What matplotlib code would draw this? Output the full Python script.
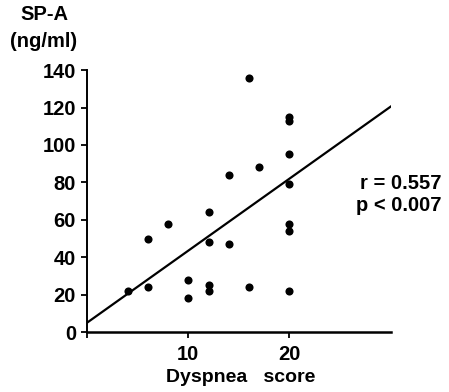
import matplotlib
matplotlib.use("Agg")
import matplotlib.pyplot as plt
import numpy as np

plt.rcParams['font.family'] = ['Liberation Sans', 'DejaVu Sans']

# Data
dyspnea = [4, 6, 6, 8, 10, 10, 12, 12, 12, 12, 14, 14, 16, 16, 17, 20, 20, 20, 20, 20, 20, 20]
spa = [22, 50, 24, 58, 28, 18, 64, 48, 22, 25, 84, 47, 136, 24, 88, 115, 113, 95, 79, 58, 54, 22]
line_x = [0, 30]
line_intercept = 5.0
line_slope = 3.85
x_ticks = [0, 10, 20]
x_ticklabels = ["", "10", "20"]
y_ticks = [0, 20, 40, 60, 80, 100, 120, 140]

fig = plt.figure(figsize=(4.49, 3.92), dpi=100)
ax = fig.add_axes([0.194, 0.153, 0.676, 0.668])

ax.scatter(dyspnea, spa, s=34, color='black', marker='o', zorder=3, linewidths=0)
lx = np.array(line_x, dtype=float)
ax.plot(lx, line_intercept + line_slope * lx, color='black', lw=1.6)

ax.set_xlim(0, 30)
ax.set_ylim(0, 140)
ax.set_xticks(x_ticks)
ax.set_xticklabels(x_ticklabels)
ax.set_yticks(y_ticks)
for s in ['top', 'right']:
    ax.spines[s].set_visible(False)
ax.spines['left'].set_linewidth(1.4)
ax.spines['bottom'].set_linewidth(1.8)
ax.tick_params(axis='both', direction='out', length=4, width=1.3, labelsize=14.5, colors='black')
ax.tick_params(axis='x', pad=5)
ax.tick_params(axis='y', pad=4)
for lab in ax.get_xticklabels() + ax.get_yticklabels():
    lab.set_fontweight('bold')

fig.text(0.098, 0.963, "SP-A", ha='center', va='center', fontsize=14.5, fontweight='bold')
fig.text(0.098, 0.895, "(ng/ml)", ha='center', va='center', fontsize=14.5, fontweight='bold')
fig.text(0.983, 0.533, "r = 0.557", ha='right', va='center', fontsize=14.5, fontweight='bold')
fig.text(0.983, 0.475, "p < 0.007", ha='right', va='center', fontsize=14.5, fontweight='bold')
fig.text(0.535, 0.036, "Dyspnea   score", ha='center', va='center', fontsize=14, fontweight='bold')

fig.savefig("out.png", dpi=100)
